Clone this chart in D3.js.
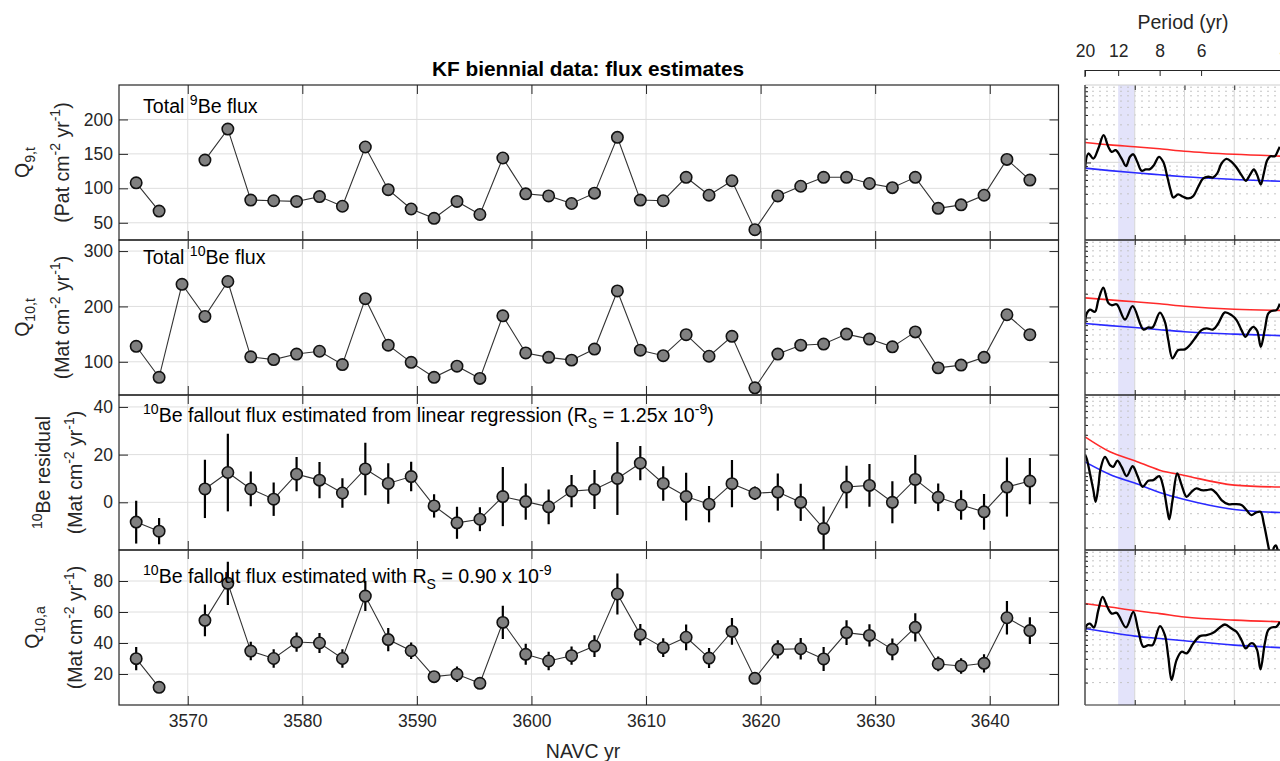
<!DOCTYPE html>
<html>
<head>
<meta charset="utf-8">
<script src="https://cdn.jsdelivr.net/npm/d3@7"></script>
<style>
  html, body { margin: 0; padding: 0; background: #fff; }
  svg { display: block; font-family: "Liberation Sans", Arial, Helvetica, sans-serif; }
</style>
</head>
<body>
<svg id="fig" width="1280" height="761"></svg>
<script>
// ---------------------------------------------------------------------------
// Biennial samples (NAVC yr, mid-point of each two-year layer)
// ---------------------------------------------------------------------------
const years = [3565.5, 3567.5, 3569.5, 3571.5, 3573.5, 3575.5, 3577.5, 3579.5, 3581.5, 3583.5,
               3585.5, 3587.5, 3589.5, 3591.5, 3593.5, 3595.5, 3597.5, 3599.5, 3601.5, 3603.5,
               3605.5, 3607.5, 3609.5, 3611.5, 3613.5, 3615.5, 3617.5, 3619.5, 3621.5, 3623.5,
               3625.5, 3627.5, 3629.5, 3631.5, 3633.5, 3635.5, 3637.5, 3639.5, 3641.5, 3643.5];

// Total 9Be flux (Pat cm-2 yr-1); null = no sample
const fluxQ9 = [108, 67, null, 141, 186, 83, 82, 81, 88, 74,
                160, 98, 70, 56.5, 81, 62, 144, 92, 89, 78,
                93, 174, 83, 82, 116, 90, 111, 40, 89, 103,
                116, 116, 107, 101, 116, 71, 76, 90, 142, 112];

// Total 10Be flux (Mat cm-2 yr-1)
const fluxQ10 = [128, 72, 240, 182, 245, 109, 104, 114, 119, 95,
                 214, 130, 99, 72, 92, 70, 183, 116, 108, 103,
                 123, 228, 121, 111, 149, 110, 146, 53, 114, 130,
                 132, 150, 141, 127, 154, 89, 94, 108, 185, 149];

// 10Be residual from linear regression (Mat cm-2 yr-1) and its uncertainty
const residual = [-8.3, -12.1, null, 5.6, 12.5, 5.6, 1.3, 11.8, 9.3, 3.9,
                  14.0, 7.9, 10.8, -1.5, -8.6, -7.1, 2.4, 0.3, -1.9, 4.7,
                  5.4, 10.0, 16.4, 7.9, 2.4, -0.8, 7.8, 3.8, 4.3, 0.0,
                  -11.0, 6.4, 7.1, 0.0, 9.6, 2.1, -1.1, -4.0, 6.4, 8.9];
const residualErr = [9, 5.5, null, 12.2, 16.3, 7.3, 7, 7.2, 7.6, 6.2,
                     11, 8.5, 6.2, 4.9, 6.7, 5, 12.4, 7.6, 7.3, 6.8,
                     8.2, 15.3, 7.2, 7.2, 10, 7.6, 9.9, 2.8, 7.8, 7.8,
                     9.2, 8.9, 9, 8.8, 10.2, 5.8, 6.2, 7.5, 12.4, 9.7];

// 10Be fallout flux with Rs = 0.90e-9 (Mat cm-2 yr-1) and its uncertainty
const fluxQ10a = [29.9, 11.4, null, 54.6, 78.5, 34.8, 30.0, 40.6, 40.0, 30.0,
                  70.3, 42.2, 35.0, 18.3, 19.8, 14.0, 53.3, 32.7, 28.4, 31.8,
                  38.0, 71.6, 45.4, 37.0, 43.7, 30.3, 47.5, 17.2, 35.9, 36.3,
                  29.7, 46.7, 44.9, 35.9, 50.1, 26.5, 25.2, 26.9, 56.3, 48.0];
const fluxQ10aErr = [7.5, 3.5, null, 10.3, 14, 6, 6, 6.2, 6.5, 6,
                     9.7, 7.5, 5.3, 2.6, 5, 2, 10.7, 6.8, 5.9, 5.9,
                     7, 13.2, 6.8, 6.1, 8.3, 6.5, 8.6, 2.5, 5.9, 7,
                     7.8, 8, 7.2, 7, 9.1, 4.8, 5, 5.9, 10.8, 8.6];

const yearTicks = [3570, 3580, 3590, 3600, 3610, 3620, 3630, 3640];

// ---------------------------------------------------------------------------
// Power spectra (frequency in cycles/yr, relative power)
// ---------------------------------------------------------------------------
const specQ9Freq = [0.05, 0.0534, 0.0584, 0.0634, 0.0687, 0.0734, 0.0768, 0.0808, 0.0868, 0.0912,
                    0.0952, 0.0985, 0.1025, 0.1069, 0.1109, 0.1153, 0.1193, 0.1243, 0.1286, 0.1327,
                    0.1360, 0.1387, 0.1437, 0.1487, 0.1537, 0.1588, 0.1638, 0.1688, 0.1738, 0.1788,
                    0.1829, 0.1872, 0.1922, 0.1973, 0.2023, 0.2073, 0.2116, 0.2157, 0.2197, 0.2230,
                    0.2267, 0.2297, 0.2331, 0.2364, 0.2408, 0.2441, 0.2458];
const specQ9Power = [0.84, 1.30, 1.12, 1.50, 2.22, 1.58, 1.36, 1.43, 1.12, 0.899,
                     1.18, 1.27, 1.02, 0.784, 0.815, 0.823, 0.925, 1.18, 1.02, 0.659,
                     0.447, 0.360, 0.394, 0.367, 0.350, 0.375, 0.492, 0.627, 0.659, 0.646,
                     0.726, 0.971, 1.11, 1.02, 0.864, 0.692, 0.586, 0.692, 0.815, 0.692,
                     0.526, 0.726, 1.07, 1.20, 1.20, 1.43, 1.58];

const specQ10Freq = [0.05, 0.0517, 0.0550, 0.0600, 0.0634, 0.0684, 0.0734, 0.0768, 0.0818, 0.0902,
                     0.0979, 0.1086, 0.1136, 0.1179, 0.1253, 0.1303, 0.1337, 0.1380, 0.1437, 0.1504,
                     0.1554, 0.1604, 0.1671, 0.1722, 0.1788, 0.1839, 0.1906, 0.1973, 0.2023, 0.2073,
                     0.2113, 0.2157, 0.2190, 0.2230, 0.2267, 0.2307, 0.2341, 0.2374, 0.2424, 0.2458];
const specQ10Power = [0.839, 1.12, 1.26, 1.18, 1.66, 2.38, 1.53, 1.43, 1.47, 0.943,
                      1.39, 0.705, 0.747, 0.747, 1.15, 0.881, 0.516, 0.303, 0.386, 0.394,
                      0.447, 0.542, 0.692, 0.726, 0.705, 0.839, 1.16, 1.07, 0.925, 0.692,
                      0.569, 0.692, 0.762, 0.678, 0.425, 0.705, 1.12, 1.21, 1.24, 1.50];

const specResFreq = [0.05, 0.0517, 0.0550, 0.0584, 0.0607, 0.0634, 0.0657, 0.0701, 0.0751, 0.0784,
                     0.0825, 0.0868, 0.0918, 0.0979, 0.1025, 0.1079, 0.1136, 0.1186, 0.1246, 0.1286,
                     0.1327, 0.1347, 0.1380, 0.1427, 0.1471, 0.1521, 0.1571, 0.1621, 0.1671, 0.1722,
                     0.1772, 0.1822, 0.1872, 0.1939, 0.2006, 0.2073, 0.2123, 0.2173, 0.2217, 0.2264,
                     0.2297, 0.2324, 0.2351, 0.2374, 0.2398, 0.2418, 0.2438, 0.2458];
const specResPower = [1.69, 1.50, 0.971, 0.597, 0.425, 0.659, 1.12, 1.58, 1.24, 1.18,
                      1.41, 1.18, 0.899, 1.20, 0.925, 0.659, 0.784, 0.800, 0.899, 0.659,
                      0.334, 0.254, 0.447, 0.971, 0.692, 0.492, 0.569, 0.627, 0.597, 0.597,
                      0.609, 0.542, 0.447, 0.397, 0.397, 0.386, 0.334, 0.288, 0.309, 0.318,
                      0.226, 0.153, 0.102, 0.070, 0.112, 0.119, 0.102, 0.078];

const specQ10aFreq = [0.05, 0.0517, 0.0550, 0.0590, 0.0634, 0.0677, 0.0724, 0.0768, 0.0818, 0.0912,
                      0.0985, 0.1035, 0.1086, 0.1136, 0.1179, 0.1253, 0.1303, 0.1337, 0.1370, 0.1420,
                      0.1471, 0.1521, 0.1588, 0.1655, 0.1722, 0.1788, 0.1855, 0.1906, 0.1973, 0.2023,
                      0.2073, 0.2116, 0.2163, 0.2190, 0.2230, 0.2264, 0.2307, 0.2341, 0.2374, 0.2424,
                      0.2458];
const specQ10aPower = [0.881, 1.07, 1.12, 1.0, 1.66, 2.44, 1.83, 1.50, 1.53, 1.0,
                       1.58, 0.925, 0.569, 0.597, 0.597, 1.04, 0.800, 0.425, 0.215, 0.386,
                       0.492, 0.469, 0.627, 0.777, 0.800, 0.856, 1.0, 1.09, 0.971, 0.881,
                       0.692, 0.542, 0.627, 0.627, 0.516, 0.294, 0.627, 0.925, 1.0, 1.02,
                       1.18];

// Red-noise background (blue) and its 95% confidence level (red)
const bgFreq = [0.05, 0.075, 0.10, 0.125, 0.15, 0.20, 0.25];
const bgQ9   = [0.848, 0.789, 0.740, 0.698, 0.659, 0.609, 0.575];
const ciQ9   = [1.79, 1.67, 1.58, 1.49, 1.39, 1.27, 1.20];
const bgQ10  = [0.839, 0.789, 0.747, 0.700, 0.659, 0.615, 0.586];
const ciQ10  = [1.77, 1.67, 1.58, 1.49, 1.39, 1.27, 1.23];
const bgRes  = [1.36, 0.943, 0.733, 0.558, 0.455, 0.340, 0.309];
const ciRes  = [2.83, 1.83, 1.41, 1.07, 0.916, 0.692, 0.652];
const bgQ10a = [0.971, 0.864, 0.777, 0.726, 0.678, 0.597, 0.553];
const ciQ10a = [2.01, 1.82, 1.64, 1.50, 1.36, 1.24, 1.18];

const periodTicks = [20, 12, 8, 6, 4];
const solarBand = [12, 10];          // shaded period range (yr)
const freqTicks = [0.10, 0.15, 0.20, 0.25];

// ---------------------------------------------------------------------------
// Layout
// ---------------------------------------------------------------------------
const svg = d3.select("#fig");
const INK = "#262626";
const GRID = "#dedede";
const FONT_TICK = 17.5, FONT_LABEL = 19.5, FONT_NOTE = 19.6;

const plotLeft = 119, plotRight = 1058.5;
const panelTops = [85, 240, 395, 550];
const panelH = 155;
const specLeft = 1085, specRight = 1284;

const x = d3.scaleLinear().domain([3564, 3646]).range([plotLeft, plotRight]);
const fx = d3.scaleLinear().domain([0.05, 0.25]).range([specLeft, specRight]);

const S = (t, s) => ({t, s});
const massUnits = [S("(Mat cm"), S("-2", "sup"), S(" yr"), S("-1", "sup"), S(")")];

const panels = [
  { values: fluxQ9, err: null, domain: [25, 250], ticks: [50, 100, 150, 200],
    note: [S("Total "), S("9", "sup"), S("Be flux")], noteY: 113,
    label1: [S("Q"), S("9,t", "sub")],
    label2: [S("(Pat cm"), S("-2", "sup"), S(" yr"), S("-1", "sup"), S(")")],
    labelX: [29, 68.5],
    specF: specQ9Freq, specP: specQ9Power, bg: bgQ9, ci: ciQ9 },
  { values: fluxQ10, err: null, domain: [40, 320], ticks: [100, 200, 300],
    note: [S("Total "), S("10", "sup"), S("Be flux")], noteY: 264,
    label1: [S("Q"), S("10,t", "sub")], label2: massUnits, labelX: [29, 68.5],
    specF: specQ10Freq, specP: specQ10Power, bg: bgQ10, ci: ciQ10 },
  { values: residual, err: residualErr, domain: [-20, 45], ticks: [0, 20, 40],
    note: [S("10", "sup"), S("Be fallout flux estimated from linear regression (R"), S("S", "sub"),
           S(" = 1.25x 10"), S("-9", "sup"), S(")")], noteY: 422,
    label1: [S("10", "sup"), S("Be residual")], label2: massUnits, labelX: [50, 82],
    specF: specResFreq, specP: specResPower, bg: bgRes, ci: ciRes },
  { values: fluxQ10a, err: fluxQ10aErr, domain: [0, 100], ticks: [20, 40, 60, 80],
    note: [S("10", "sup"), S("Be fallout flux estimated with R"), S("S", "sub"),
           S(" = 0.90 x 10"), S("-9", "sup")], noteY: 583,
    label1: [S("Q"), S("10,a", "sub")], label2: massUnits, labelX: [39, 82],
    specF: specQ10aFreq, specP: specQ10aPower, bg: bgQ10a, ci: ciQ10a }
];

// Writes TeX-like text (superscripts / subscripts) into an SVG <text>
function rich(textSel, parts, fs) {
  let off = 0;
  parts.forEach(p => {
    const target = p.s === "sup" ? -0.42 * fs : p.s === "sub" ? 0.32 * fs : 0;
    const ts = textSel.append("tspan").attr("dy", (target - off).toFixed(2)).text(p.t);
    if (p.s) ts.attr("font-size", (0.72 * fs).toFixed(2));
    off = target;
  });
  return textSel;
}

const defs = svg.append("defs");

// ---------------------------------------------------------------------------
// Title
// ---------------------------------------------------------------------------
svg.append("text")
  .attr("x", 588).attr("y", 76)
  .attr("text-anchor", "middle").attr("font-weight", "bold")
  .attr("font-size", 20.8).attr("fill", "#000")
  .text("KF biennial data: flux estimates");

// ---------------------------------------------------------------------------
// Time-series panels
// ---------------------------------------------------------------------------
panels.forEach((p, i) => {
  const top = panelTops[i], bottom = top + panelH;
  const y = d3.scaleLinear().domain(p.domain).range([bottom, top]);
  const g = svg.append("g");

  const clipId = "clip-ts-" + i;
  defs.append("clipPath").attr("id", clipId)
    .append("rect").attr("x", plotLeft).attr("y", top)
    .attr("width", plotRight - plotLeft).attr("height", panelH);

  // grid
  const grid = g.append("g").attr("stroke", GRID).attr("stroke-width", 1);
  grid.selectAll("line.v").data(yearTicks).join("line")
    .attr("x1", d => x(d)).attr("x2", d => x(d)).attr("y1", top).attr("y2", bottom);
  grid.selectAll("line.h").data(p.ticks).join("line")
    .attr("x1", plotLeft).attr("x2", plotRight).attr("y1", d => y(d)).attr("y2", d => y(d));

  // axes with inward ticks
  const yAxis = g.append("g").attr("transform", `translate(${plotLeft},0)`)
    .call(d3.axisLeft(y).tickValues(p.ticks).tickSize(-9).tickPadding(6));
  const yAxisR = g.append("g").attr("transform", `translate(${plotRight},0)`)
    .call(d3.axisRight(y).tickValues(p.ticks).tickSize(-9).tickFormat(""));
  const xAxisT = g.append("g").attr("transform", `translate(0,${top})`)
    .call(d3.axisTop(x).tickValues(yearTicks).tickSize(-9).tickFormat(""));
  const xAxisB = g.append("g").attr("transform", `translate(0,${bottom})`)
    .call(d3.axisBottom(x).tickValues(yearTicks).tickSize(-9).tickPadding(10)
      .tickFormat(i === panels.length - 1 ? d3.format("d") : ""));
  [yAxis, yAxisR, xAxisT, xAxisB].forEach(a => {
    a.select(".domain").remove();
    a.selectAll(".tick line").attr("stroke", INK).attr("stroke-width", 1);
    a.selectAll(".tick text").attr("fill", INK).attr("font-size", FONT_TICK)
      .attr("font-family", "Liberation Sans, Arial, Helvetica, sans-serif");
  });

  // frame
  g.append("rect").attr("x", plotLeft).attr("y", top)
    .attr("width", plotRight - plotLeft).attr("height", panelH)
    .attr("fill", "none").attr("stroke", INK).attr("stroke-width", 1.2);

  // data
  const pts = years.map((yr, k) => ({yr, v: p.values[k], e: p.err ? p.err[k] : null}));
  const data = g.append("g").attr("clip-path", `url(#${clipId})`);

  if (p.err) {
    data.selectAll("line.err").data(pts.filter(d => d.v != null && d.e != null)).join("line")
      .attr("x1", d => x(d.yr)).attr("x2", d => x(d.yr))
      .attr("y1", d => y(d.v - d.e)).attr("y2", d => y(d.v + d.e))
      .attr("stroke", "#000").attr("stroke-width", 2.2);
  }

  const line = d3.line().defined(d => d.v != null).x(d => x(d.yr)).y(d => y(d.v));
  data.append("path").datum(pts).attr("d", line)
    .attr("fill", "none").attr("stroke", "#333").attr("stroke-width", 1.1);

  data.selectAll("circle").data(pts.filter(d => d.v != null)).join("circle")
    .attr("cx", d => x(d.yr)).attr("cy", d => y(d.v)).attr("r", 5.7)
    .attr("fill", "#808080").attr("stroke", "#111").attr("stroke-width", 1.6);

  // annotation
  rich(g.append("text").attr("x", 143).attr("y", p.noteY)
    .attr("font-size", FONT_NOTE).attr("fill", "#000"), p.note, FONT_NOTE);

  // y label (two lines)
  const cy = top + panelH / 2;
  [p.label1, p.label2].forEach((parts, k) => {
    const lx = p.labelX[k];
    rich(g.append("text").attr("x", lx).attr("y", cy)
      .attr("transform", `rotate(-90,${lx},${cy})`)
      .attr("text-anchor", "middle").attr("font-size", FONT_LABEL).attr("fill", INK),
      parts, FONT_LABEL);
  });
});

// x label
svg.append("text").attr("x", 583).attr("y", 758)
  .attr("text-anchor", "middle").attr("font-size", FONT_LABEL).attr("fill", INK)
  .text("NAVC yr");

// ---------------------------------------------------------------------------
// Spectral panels
// ---------------------------------------------------------------------------
const specTop = panelTops[0], specBottom = panelTops[3] + panelH;

// shaded period band
svg.append("rect")
  .attr("x", fx(1 / solarBand[0])).attr("y", specTop)
  .attr("width", fx(1 / solarBand[1]) - fx(1 / solarBand[0]))
  .attr("height", specBottom - specTop)
  .attr("fill", "#e3e3fa");

panels.forEach((p, i) => {
  const top = panelTops[i], bottom = top + panelH;
  const ly = d3.scaleLog().domain([0.104, 9.6]).range([bottom, top]);
  const g = svg.append("g");

  const clipId = "clip-sp-" + i;
  defs.append("clipPath").attr("id", clipId)
    .append("rect").attr("x", specLeft).attr("y", top)
    .attr("width", specRight - specLeft).attr("height", panelH);

  const allTicks = ly.ticks().filter(v => v >= 0.104 && v <= 9.6);
  const major = allTicks.filter(v => Math.abs(Math.log10(v) - Math.round(Math.log10(v))) < 1e-6);
  const minor = allTicks.filter(v => !major.includes(v));

  g.selectAll("line.minor").data(minor).join("line")
    .attr("x1", specLeft).attr("x2", specRight)
    .attr("y1", d => ly(d)).attr("y2", d => ly(d))
    .attr("stroke", "#c4c4c4").attr("stroke-width", 1).attr("stroke-dasharray", "2,5");
  g.selectAll("line.major").data(major).join("line")
    .attr("x1", specLeft).attr("x2", specRight)
    .attr("y1", d => ly(d)).attr("y2", d => ly(d))
    .attr("stroke", GRID).attr("stroke-width", 1.2);
  g.selectAll("line.vgrid").data(freqTicks.slice(0, 3)).join("line")
    .attr("x1", d => fx(d)).attr("x2", d => fx(d)).attr("y1", top).attr("y2", bottom)
    .attr("stroke", "#d6d6d6").attr("stroke-width", 1);

  const curves = g.append("g").attr("clip-path", `url(#${clipId})`);
  const bgLine = d3.line().x((d, k) => fx(bgFreq[k])).y(d => ly(d)).curve(d3.curveMonotoneX);
  curves.append("path").attr("d", bgLine(p.ci))
    .attr("fill", "none").attr("stroke", "#ff2a2a").attr("stroke-width", 1.6);
  curves.append("path").attr("d", bgLine(p.bg))
    .attr("fill", "none").attr("stroke", "#2a2aff").attr("stroke-width", 1.6);
  const specLine = d3.line().x((d, k) => fx(p.specF[k])).y(d => ly(d))
    .curve(d3.curveCatmullRom.alpha(0.5));
  curves.append("path").attr("d", specLine(p.specP))
    .attr("fill", "none").attr("stroke", "#000").attr("stroke-width", 2.3)
    .attr("stroke-linejoin", "round");

  // ticks on the left (log) and along the top / bottom edges
  const yA = g.append("g").attr("transform", `translate(${specLeft},0)`)
    .call(d3.axisLeft(ly).tickValues(major).tickSize(-6).tickFormat(""));
  const yAm = g.append("g").attr("transform", `translate(${specLeft},0)`)
    .call(d3.axisLeft(ly).tickValues(minor).tickSize(-3).tickFormat(""));
  const xB = g.append("g").attr("transform", `translate(0,${bottom})`)
    .call(d3.axisBottom(fx).tickValues(freqTicks).tickSize(-5).tickFormat(""));
  const xT = g.append("g").attr("transform", `translate(0,${top})`)
    .call(d3.axisTop(fx).tickValues(freqTicks).tickSize(-5).tickFormat(""));
  [yA, yAm, xB, xT].forEach(a => {
    a.select(".domain").remove();
    a.selectAll(".tick line").attr("stroke", INK).attr("stroke-width", 1);
  });

  // frame edges
  g.append("line").attr("x1", specLeft).attr("x2", specRight).attr("y1", bottom).attr("y2", bottom)
    .attr("stroke", INK).attr("stroke-width", 1.2);
  g.append("line").attr("x1", specLeft).attr("x2", specRight).attr("y1", top).attr("y2", top)
    .attr("stroke", i === 0 ? "#cfcfcf" : INK).attr("stroke-width", 1.2);
  g.append("line").attr("x1", specLeft).attr("x2", specLeft).attr("y1", top).attr("y2", bottom)
    .attr("stroke", "#555").attr("stroke-width", 1.6);
});

// period axis on top
const pAxis = svg.append("g").attr("transform", "translate(0,70)")
  .call(d3.axisTop(fx).tickValues(periodTicks.map(d => 1 / d))
    .tickSize(-6).tickSizeOuter(0).tickPadding(13).tickFormat(d => Math.round(1 / d)));
pAxis.select(".domain").attr("stroke", INK).attr("stroke-width", 1.2);
pAxis.selectAll(".tick line").attr("stroke", INK);
pAxis.selectAll(".tick text").attr("fill", INK).attr("font-size", FONT_TICK)
  .attr("font-family", "Liberation Sans, Arial, Helvetica, sans-serif");
svg.append("line").attr("x1", specLeft).attr("x2", specLeft).attr("y1", 70).attr("y2", 77)
  .attr("stroke", INK).attr("stroke-width", 1.2);

svg.append("text").attr("x", 1183).attr("y", 29)
  .attr("text-anchor", "middle").attr("font-size", FONT_LABEL).attr("fill", INK)
  .text("Period (yr)");
</script>
</body>
</html>
